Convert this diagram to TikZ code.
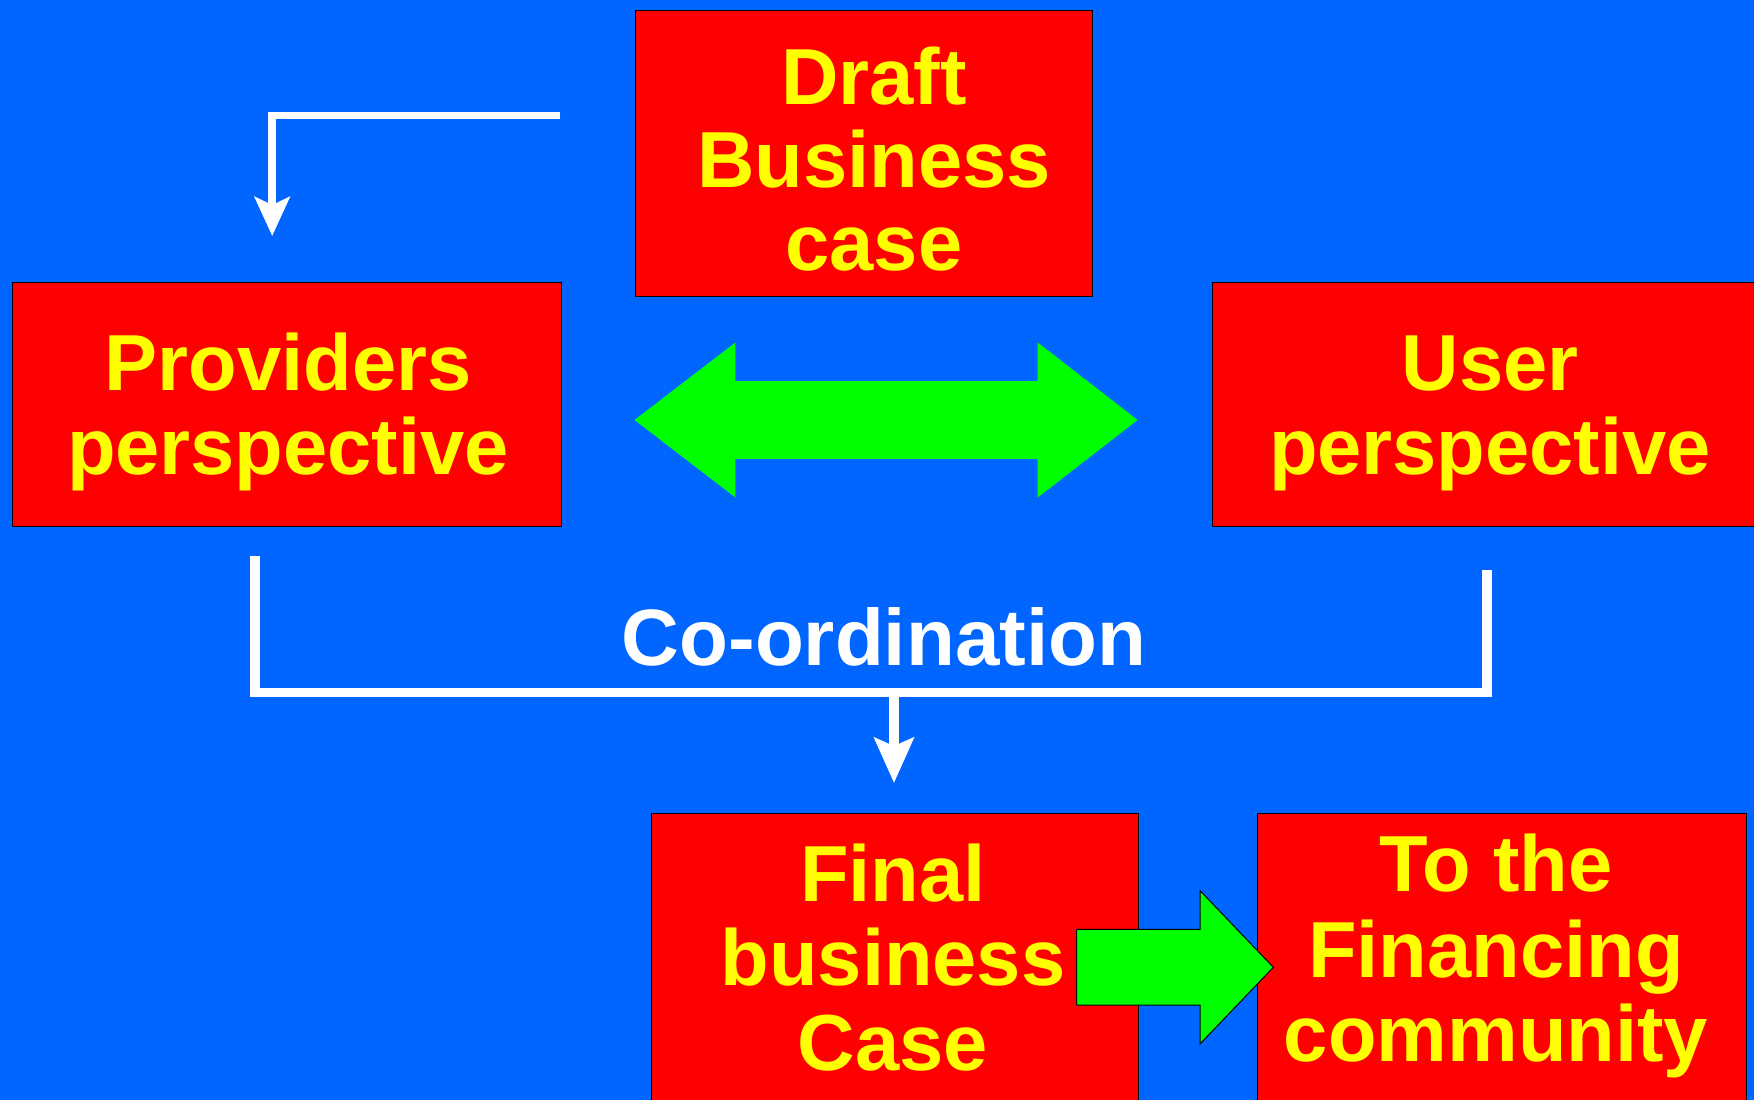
\documentclass[tikz,border=0pt]{standalone}
\usepackage{fontspec}
\setmainfont{Liberation Sans}
\usetikzlibrary{arrows.meta}
\definecolor{bgblue}{RGB}{0,102,255}
\definecolor{boxred}{RGB}{255,0,0}
\definecolor{txtyellow}{RGB}{255,255,0}
\definecolor{arrgreen}{RGB}{0,255,0}
\begin{document}
\begin{tikzpicture}[x=1pt,y=-1pt,
  box/.style={draw=black, line width=1pt, fill=boxred, rectangle, inner sep=0pt},
  ln/.style={anchor=base, inner sep=0pt, text=txtyellow, font=\fontsize{79.5}{84}\selectfont\bfseries},
  wire/.style={draw=white, line width=9.5pt},
  topwire/.style={draw=white, line width=7.5pt},
  bigarrow/.style={fill=arrgreen}
]
\useasboundingbox (0,0) rectangle (1754,1100);
\clip (0,0) rectangle (1754,1100);
\fill[bgblue] (0,0) rectangle (1754,1100);

% boxes
\node[box, minimum width=456.6pt, minimum height=286pt] (draft) at (864,153) {};
\node[box, minimum width=549.2pt, minimum height=243.3pt] (prov) at (286.8,404.35) {};
\node[box, minimum width=555.6pt, minimum height=243.3pt] (user) at (1490.2,404.35) {};
\node[box, minimum width=486.8pt, minimum height=296.7pt] (final) at (894.8,961.65) {};
\node[box, minimum width=489pt, minimum height=296.7pt] (fin) at (1502.2,961.65) {};

% texts
\node[ln] (d1) at (874,104) {Draft};
\node[ln] (d2) at (874,187.3) {Business};
\node[ln] (d3) at (874,270.7) {case};
\node[ln] (p1) at (288,390.7) {Providers};
\node[ln] (p2) at (288,474) {perspective};
\node[ln] (u1) at (1490,390.7) {User};
\node[ln] (u2) at (1490,474) {perspective};
\node[ln] (f1) at (893,901.7) {Final};
\node[ln] (f2) at (893,985.7) {business};
\node[ln] (f3) at (893,1070.7) {Case};
\node[ln] (t1) at (1496,891.7) {To the};
\node[ln] (t2) at (1496,977.3) {Financing};
\node[ln] (t3) at (1496,1061.7) {community};
\node[anchor=base, inner sep=0pt, text=white, font=\fontsize{80}{86}\selectfont\bfseries] (coord) at (884,665) {Co-ordination};

% green double arrow between perspectives
\fill[bigarrow] (634.5,420) -- (735.4,342.5) -- (735.4,381.2) -- (1037.7,381.2) -- (1037.7,342.5)
  -- (1137.5,420) -- (1037.7,497.5) -- (1037.7,458.8) -- (735.4,458.8) -- (735.4,497.5) -- cycle;

% green arrow to financing community
\filldraw[bigarrow, draw=black, line width=1pt] (1076.7,929.4) -- (1200,929.4) -- (1200,890.6)
  -- (1273.3,967.3) -- (1200,1044) -- (1200,1005.2) -- (1076.7,1005.2) -- cycle;

% top connector
\coordinate (tA) at (560,115.7);
\coordinate (tB) at (272.2,236);
\draw[topwire, -{Stealth[length=39pt,width=35pt,inset=8pt]}] (tA) -| (tB);

% co-ordination bracket
\coordinate (cL) at (255,555.7);
\coordinate (cR) at (1487,570);
\coordinate (cM) at (894,692.7);
\coordinate (cT) at (894,783);
\draw[wire] (cL) -- (cL |- cM) -- (cR |- cM) -- (cR);
\draw[wire, -{Stealth[length=45pt,width=39pt,inset=8pt]}] (cM) -- (cT);
\end{tikzpicture}
\end{document}
